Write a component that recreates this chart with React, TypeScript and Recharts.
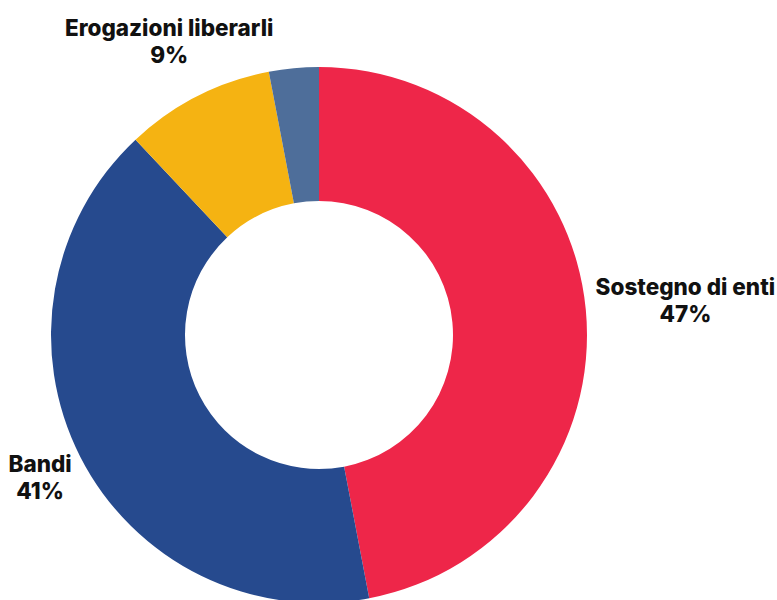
import React from "react";
import { PieChart, Pie, Cell } from "recharts";

// Ripartizione delle erogazioni per tipologia (valori in %)
const categories = ["Sostegno di enti", "Bandi", "Altro", "Erogazioni liberarli"];
const shares = [47, 41, 3, 9];
const colors = ["#EE2649", "#264A8E", "#4E6E9A", "#F5B312"];
// distance of each label from the centre, null = no label
const labelRadius: Record<string, number | null> = {
  "Sostegno di enti": 368,
  Bandi: 313,
  Altro: null,
  "Erogazioni liberarli": 330,
};

// slice order around the ring, clockwise from 12 o'clock
const order = ["Sostegno di enti", "Bandi", "Erogazioni liberarli", "Altro"];

const data = order.map((name) => {
  const i = categories.indexOf(name);
  return { name, value: shares[i], color: colors[i] };
});

const RADIAN = Math.PI / 180;

const renderLabel = (props: any) => {
  const { cx, cy, midAngle, name, value } = props;
  const r = labelRadius[name];
  if (r == null) return null;
  const x = cx + r * Math.cos(-midAngle * RADIAN);
  const y = cy + r * Math.sin(-midAngle * RADIAN);
  return (
    <text
      x={x}
      y={y}
      textAnchor="middle"
      fill="#111111"
      fontFamily="Inter, 'Noto Sans', sans-serif"
      fontWeight={800}
      fontSize={22.5}
    >
      <tspan x={x} dy={-5}>
        {name}
      </tspan>
      <tspan x={x} dy={27}>
        {value}%
      </tspan>
    </text>
  );
};

export default function App() {
  return (
    <div style={{ position: "absolute", left: 0, top: 0, width: 777, height: 600, background: "#fff" }}>
      <PieChart width={777} height={600} margin={{ top: 0, right: 0, bottom: 0, left: 0 }}>
        <Pie
          data={data}
          dataKey="value"
          nameKey="name"
          cx={319}
          cy={335}
          innerRadius={134}
          outerRadius={268}
          startAngle={90}
          endAngle={-270}
          stroke="none"
          label={renderLabel}
          labelLine={false}
          isAnimationActive={false}
        >
          {data.map((d) => (
            <Cell key={d.name} fill={d.color} />
          ))}
        </Pie>
      </PieChart>
    </div>
  );
}
